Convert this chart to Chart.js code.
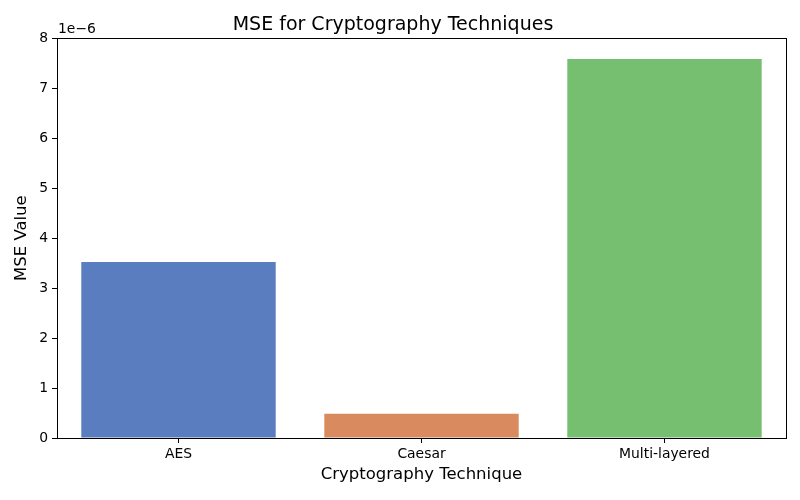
<!DOCTYPE html>
<html><head><meta charset="utf-8">
<script src="https://cdn.jsdelivr.net/npm/chart.js@4"></script>
<style>html,body{margin:0;padding:0;background:#fff}#wrap{width:800px;height:500px}</style>
</head><body><div id="wrap"><canvas id="c" width="800" height="500"></canvas></div>
<script>
const categories = ["AES", "Caesar", "Multi-layered"];
const mseValues = [3.525e-6, 0.485e-6, 7.585e-6];
const barColors = ["#597dbf", "#d98b5f", "#76bf71"];
const yTicks = [0, 1, 2, 3, 4, 5, 6, 7, 8];
const offsetText = "1e\u22126";
const FONT = "'DejaVu Sans', sans-serif";

const framePlugin = {
  id: 'frame',
  afterDraw(chart) {
    const {ctx, chartArea: a} = chart;
    ctx.save();
    ctx.strokeStyle = '#000';
    ctx.lineWidth = 1;
    ctx.strokeRect(Math.round(a.left) + 0.5, Math.round(a.top) + 0.5, Math.round(a.right - a.left), Math.round(a.bottom - a.top));
    ctx.fillStyle = '#000';
    ctx.font = "13.9px " + FONT;
    ctx.textAlign = 'left';
    ctx.textBaseline = 'middle';
    ctx.fillText(offsetText, a.left + 1, a.top - 9);
    ctx.restore();
  }
};

new Chart(document.getElementById('c'), {
  type: 'bar',
  data: {
    labels: categories,
    datasets: [{ data: mseValues, backgroundColor: barColors, borderWidth: 0, borderSkipped: false, categoryPercentage: 1.0, barPercentage: 0.8 }]
  },
  options: {
    responsive: false,
    animation: false,
    devicePixelRatio: 1,
    layout: { padding: { left: 0, right: 14, top: 0, bottom: 0 } },
    plugins: {
      legend: { display: false },
      tooltip: { enabled: false },
      title: {
        display: true, text: 'MSE for Cryptography Techniques', color: '#000',
        font: { family: FONT, size: 19, weight: 'normal' },
        padding: { top: 14, bottom: 1.5 }
      }
    },
    scales: {
      x: {
        grid: { display: true, drawOnChartArea: false, drawTicks: true, tickLength: 5, color: '#000', offset: false },
        border: { display: true, color: '#000', width: 1 },
        ticks: { color: '#000', font: { family: FONT, size: 13.9 }, padding: 3, maxRotation: 0 },
        title: { display: true, text: 'Cryptography Technique', color: '#000', font: { family: FONT, size: 16.5 }, padding: { top: 0, bottom: 15 } },
        afterFit(s) { s.height = 62; }
      },
      y: {
        min: 0, max: 8e-6,
        afterBuildTicks(s) { s.ticks = yTicks.map(v => ({ value: v * 1e-6 })); },
        grid: { display: true, drawOnChartArea: false, drawTicks: true, tickLength: 5, color: '#000' },
        border: { display: true, color: '#000', width: 1 },
        ticks: { color: '#000', font: { family: FONT, size: 13.9 }, padding: 4,
          callback: (v) => String(Math.round(v * 1e6)) },
        title: { display: true, text: 'MSE Value', color: '#000', font: { family: FONT, size: 16.5 }, padding: { top: 12, bottom: 0 } },
        afterFit(s) { s.width = 57; }
      }
    }
  },
  plugins: [framePlugin]
});
</script>
</body></html>
